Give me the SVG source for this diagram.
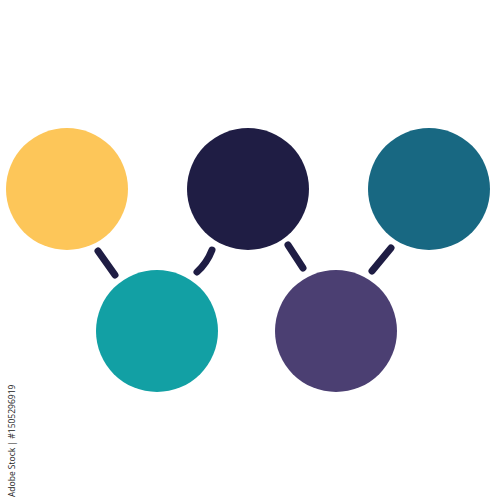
<svg xmlns="http://www.w3.org/2000/svg" width="500" height="500" viewBox="0 0 500 500">
<style>
.c{stroke:none}
.conn line,.conn path{stroke:#1f1d44;stroke-width:7;stroke-linecap:round;fill:none}
.wm{font-family:"Open Sans","Liberation Sans",sans-serif;font-size:8.5px;fill:#222}
</style>
<rect width="500" height="500" fill="#fff"/>
<g class="conn">
<line x1="98" y1="251" x2="115" y2="275"/>
<path d="M212 250 Q207 263 197 272"/>
<line x1="288" y1="245" x2="303" y2="268"/>
<line x1="391" y1="248" x2="372" y2="271"/>
</g>
<g id="n1"><circle class="c" cx="67" cy="189" r="61" fill="#fdc659"/></g>
<g id="n2"><circle class="c" cx="248" cy="189" r="61" fill="#1f1d44"/></g>
<g id="n3"><circle class="c" cx="429" cy="189" r="61" fill="#186882"/></g>
<g id="n4"><circle class="c" cx="157" cy="331" r="61" fill="#12a0a4"/></g>
<g id="n5"><circle class="c" cx="336" cy="331" r="61" fill="#4b3f72"/></g>
<text class="wm" transform="translate(15,497) rotate(-90)">Adobe Stock | #1505296919</text>
</svg>
